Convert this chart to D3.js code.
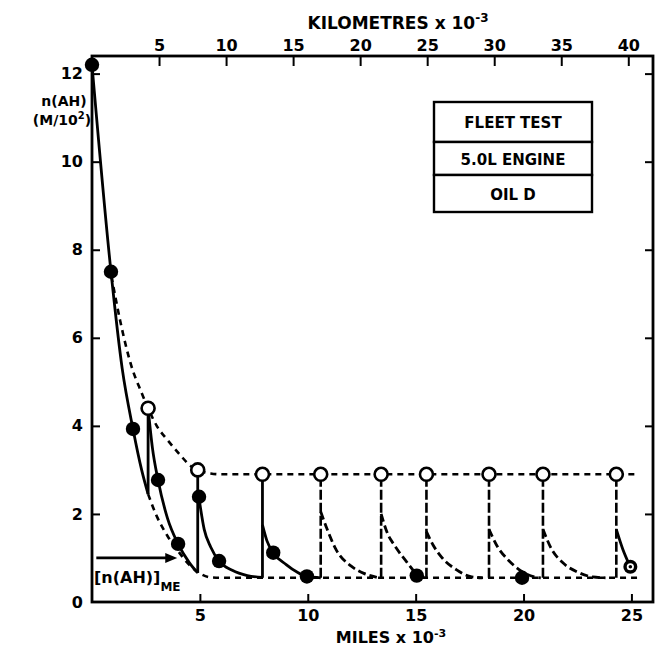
<!DOCTYPE html>
<html><head><meta charset="utf-8">
<script src="https://cdn.jsdelivr.net/npm/d3@7"></script>
<style>
body{margin:0;background:#fff;}
text{font-family:"DejaVu Sans",sans-serif;font-weight:bold;fill:#000;}
</style></head>
<body><svg id="c" width="664" height="646"></svg>
<script>
// ---- data (miles x 10^-3, n(AH) M/10^2) ----
const mileTicks = [5, 10, 15, 20, 25];
const kmTicks = [5, 10, 15, 20, 25, 30, 35, 40];
const yTicks = [0, 2, 4, 6, 8, 10, 12];
const legendRows = ["FLEET TEST", "5.0L ENGINE", "OIL D"];

const measured = [[0,12.2],[0.88,7.5],[1.9,3.93],[3.06,2.77],[3.99,1.32],[4.96,2.39],[5.89,0.93],[8.4,1.12],[9.96,0.58],[15.05,0.6],[19.93,0.55]];
const lastMeasured = [[24.95,0.8]];
const predictedTop = [[2.6,4.4],[4.9,3.0],[7.9,2.9],[10.6,2.9],[13.4,2.9],[15.5,2.9],[18.4,2.9],[20.9,2.9],[24.3,2.9]];

const upperEnvelope = [[0.9,7.4],[1.3,6.4],[1.8,5.4],[2.3,4.75],[2.6,4.4],[3.0,4.0],[3.5,3.68],[4.1,3.33],[4.6,3.08],[4.9,3.0],[5.5,2.92],[6.0,2.9],[25.3,2.9]];
const lowerEnvelope = [[2.6,2.45],[3.0,1.95],[3.5,1.5],[4.0,1.15],[4.5,0.85],[5.0,0.65],[5.5,0.56],[6.0,0.55],[25.3,0.55]];

const solidSegments = [
  [[0,12.2],[0.88,7.5],[1.4,5.3],[1.9,3.93],[2.3,3.0],[2.6,2.45]],
  [[2.6,4.4],[2.8,3.5],[3.06,2.77],[3.5,1.9],[3.99,1.32],[4.5,0.9],[4.9,0.66]],
  [[4.95,2.39],[5.2,1.65],[5.5,1.25],[5.89,0.93],[6.5,0.72],[7.2,0.6],[7.9,0.56]],
  [[7.9,1.75],[8.1,1.4],[8.4,1.12],[9.0,0.85],[9.5,0.68],[9.96,0.58],[10.6,0.55]],
  [[24.3,1.65],[24.6,1.2],[24.95,0.8]]
];
const solidVerticals = [[2.6,2.45,4.4],[4.9,0.66,3.0],[7.9,0.55,2.9]];
const dashedVerticals = [[10.6,0.55,2.9],[13.4,0.55,2.9],[15.5,0.55,2.9],[18.4,0.55,2.9],[20.9,0.55,2.9],[24.3,0.55,2.9]];
const dashedSegments = [
  [[10.6,2.05],[10.9,1.65],[11.3,1.2],[12.0,0.82],[12.6,0.65],[13.2,0.56]],
  [[13.4,2.0],[13.7,1.55],[14.0,1.3],[14.6,0.9],[15.0,0.66],[15.4,0.56]],
  [[15.5,1.6],[15.8,1.3],[16.2,1.02],[16.9,0.73],[17.6,0.57],[18.1,0.55]],
  [[18.4,1.65],[18.8,1.25],[19.3,0.95],[19.9,0.7],[20.5,0.57],[20.8,0.55]],
  [[20.9,1.65],[21.3,1.2],[21.8,0.9],[22.5,0.68],[23.2,0.57],[23.8,0.55]]
];
const arrowY = 1.0, arrowFrom = 0.2, arrowTo = 3.95;

// ---- layout ----
const svg = d3.select("#c");
const L = 92, R = 653, T = 56, B = 602;
const x = d3.scaleLinear().domain([0, 26]).range([L, R]);
const xk = d3.scaleLinear().domain([0, 26 * 1.609344]).range([L, R]);
const y = d3.scaleLinear().domain([0, 12.4]).range([B, T]);

// axes (ticks inward)
const gB = svg.append("g").attr("transform", `translate(0,${B})`)
  .call(d3.axisBottom(x).tickValues(mileTicks).tickSize(-8).tickPadding(8).tickFormat(d3.format("d")));
const gT = svg.append("g").attr("transform", `translate(0,${T})`)
  .call(d3.axisTop(xk).tickValues(kmTicks).tickSize(-10).tickPadding(-2).tickFormat(d3.format("d")));
const gL = svg.append("g").attr("transform", `translate(${L},0)`)
  .call(d3.axisLeft(y).tickValues(yTicks).tickSize(-8).tickPadding(9).tickFormat(d3.format("d")));
const gR = svg.append("g").attr("transform", `translate(${R},0)`)
  .call(d3.axisRight(y).tickValues(yTicks.filter(d => d > 0)).tickSize(-8).tickFormat(""));
[gB, gT, gL, gR].forEach(g => {
  g.select(".domain").remove();
  g.selectAll(".tick line").attr("stroke", "#000").attr("stroke-width", 2);
  g.selectAll(".tick text").style("font-size", "16px").style("font-family", "DejaVu Sans").style("font-weight", "bold");
});
gL.selectAll(".tick").filter(d => d === 0).select("line").remove();
gT.selectAll(".tick text").attr("dy", "-0.45em");

// frame
svg.append("rect").attr("x", L).attr("y", T).attr("width", R - L).attr("height", B - T)
  .attr("fill", "none").attr("stroke", "#000").attr("stroke-width", 2.8);

// axis titles
const tt = svg.append("text").attr("x", 398).attr("y", 29).attr("text-anchor", "middle").style("font-size", "17px");
tt.append("tspan").text("KILOMETRES  x  10");
tt.append("tspan").attr("dy", -7).style("font-size", "12px").text("-3");
const bt = svg.append("text").attr("x", 391).attr("y", 643).attr("text-anchor", "middle").style("font-size", "16px");
bt.append("tspan").text("MILES  x  10");
bt.append("tspan").attr("dy", -6).style("font-size", "11px").text("-3");
svg.append("text").attr("x", 64).attr("y", 106).attr("text-anchor", "middle").style("font-size", "14px").text("n(AH)");
const yl = svg.append("text").attr("x", 62).attr("y", 125).attr("text-anchor", "middle").style("font-size", "14px");
yl.append("tspan").text("(M/10");
yl.append("tspan").attr("dy", -6).style("font-size", "10px").text("2");
yl.append("tspan").attr("dy", 6).text(")");

// lines
const line = d3.line().x(d => x(d[0])).y(d => y(d[1])).curve(d3.curveMonotoneX);
const gl = svg.append("g").attr("fill", "none").attr("stroke", "#000");
gl.append("path").attr("d", line(upperEnvelope)).attr("stroke-width", 2.6).attr("stroke-dasharray", "6,5");
gl.append("path").attr("d", line(lowerEnvelope)).attr("stroke-width", 2.6).attr("stroke-dasharray", "6,5");
dashedSegments.forEach(s => gl.append("path").attr("d", line(s)).attr("stroke-width", 2.8).attr("stroke-dasharray", "8,4"));
dashedVerticals.forEach(v => gl.append("line").attr("x1", x(v[0])).attr("x2", x(v[0])).attr("y1", y(v[1])).attr("y2", y(v[2]))
  .attr("stroke-width", 2.6).attr("stroke-dasharray", "10,3"));
solidSegments.forEach(s => gl.append("path").attr("d", line(s)).attr("stroke-width", 2.8));
solidVerticals.forEach(v => gl.append("line").attr("x1", x(v[0])).attr("x2", x(v[0])).attr("y1", y(v[1])).attr("y2", y(v[2]))
  .attr("stroke-width", 2.8));

// points
svg.append("g").selectAll("circle").data(predictedTop).join("circle")
  .attr("cx", d => x(d[0])).attr("cy", d => y(d[1])).attr("r", 6.5)
  .attr("fill", "#fff").attr("stroke", "#000").attr("stroke-width", 2.6);
svg.append("g").selectAll("circle").data(measured).join("circle")
  .attr("cx", d => x(d[0])).attr("cy", d => y(d[1])).attr("r", 7.2).attr("fill", "#000");
const lm = svg.append("g").selectAll("g").data(lastMeasured).join("g")
  .attr("transform", d => `translate(${x(d[0])},${y(d[1])})`);
lm.append("circle").attr("r", 7).attr("fill", "#000");
lm.append("circle").attr("r", 3.6).attr("fill", "#fff");
lm.append("circle").attr("r", 1.8).attr("fill", "#000");

// arrow + label
svg.append("line").attr("x1", x(arrowFrom)).attr("x2", x(arrowTo) - 8).attr("y1", y(arrowY)).attr("y2", y(arrowY))
  .attr("stroke", "#000").attr("stroke-width", 2.8);
svg.append("path").attr("d", `M${x(arrowTo)},${y(arrowY)} l-12,-5 l0,10 z`).attr("fill", "#000");
const al = svg.append("text").attr("x", 94).attr("y", 583).style("font-size", "16px");
al.append("tspan").text("[n(AH)]");
al.append("tspan").attr("dy", 8).style("font-size", "12px").text("ME");

// legend box
const lgX = 434, lgY = 102, rowH = [40, 33, 37];
let yy = lgY;
const lg = svg.append("g");
legendRows.forEach((t, i) => {
  lg.append("rect").attr("x", lgX).attr("y", yy).attr("width", 158).attr("height", rowH[i])
    .attr("fill", "#fff").attr("stroke", "#000").attr("stroke-width", 2.4);
  lg.append("text").attr("x", lgX + 79).attr("y", yy + rowH[i] / 2 + 6).attr("text-anchor", "middle")
    .style("font-size", "15px").text(t);
  yy += rowH[i];
});
</script></body></html>
